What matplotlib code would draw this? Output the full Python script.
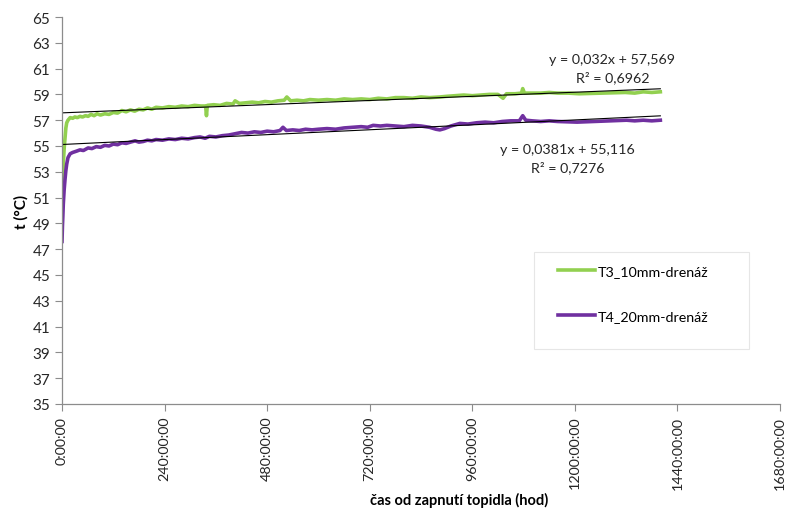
import numpy as np
import matplotlib
matplotlib.use('Agg')
import matplotlib.pyplot as plt
from matplotlib.patches import Rectangle

plt.rcParams['font.family'] = ['Lato', 'DejaVu Sans']

# T3_10mm-drenáž, time in hours, temperature in °C
t3_hours = [0, 1.5, 3, 5, 7, 9, 11, 14, 19, 25, 30, 36, 42, 48, 55, 61, 68, 75,
            82, 90, 100, 110, 120, 130, 140, 150, 160, 170, 180, 190, 200, 210,
            220, 235, 250, 265, 280, 295, 310, 325, 336, 338, 340, 355, 370,
            385, 400, 405, 415, 430, 445, 460, 475, 490, 505, 520, 526, 535,
            550, 565, 580, 600, 620, 640, 660, 680, 700, 720, 740, 760, 780,
            800, 820, 840, 860, 884, 900, 920, 940, 960, 980, 1000, 1020,
            1032, 1040, 1060, 1075, 1078, 1082, 1100, 1120, 1140, 1160, 1185,
            1210, 1318, 1340, 1360, 1380, 1400]
t3_temp = [51.1, 52.4, 53.6, 54.8, 55.6, 56.4, 56.8, 57.0, 57.2, 57.15, 57.25,
           57.2, 57.3, 57.25, 57.35, 57.3, 57.45, 57.35, 57.5, 57.4, 57.5,
           57.45, 57.6, 57.55, 57.75, 57.65, 57.8, 57.7, 57.85, 57.8, 57.95,
           57.85, 58.0, 57.95, 58.05, 58.0, 58.1, 58.05, 58.15, 58.1, 58.1,
           57.35, 58.15, 58.2, 58.15, 58.3, 58.25, 58.5, 58.3, 58.35, 58.4,
           58.35, 58.45, 58.4, 58.5, 58.55, 58.8, 58.5, 58.55, 58.5, 58.6,
           58.55, 58.6, 58.55, 58.65, 58.6, 58.65, 58.6, 58.7, 58.65, 58.75,
           58.75, 58.7, 58.8, 58.75, 58.8, 58.85, 58.9, 58.95, 58.9, 58.95,
           59.0, 59.0, 58.7, 59.05, 59.05, 59.1, 59.45, 59.1, 59.1, 59.1,
           59.15, 59.1, 59.1, 59.05, 59.15, 59.1, 59.2, 59.15, 59.2]

# T4_20mm-drenáž
t4_hours = [0, 1, 2, 3, 5, 7, 9, 11, 14, 19, 25, 34, 42, 50, 61, 70, 80, 90,
            100, 110, 120, 130, 140, 150, 160, 171, 180, 190, 200, 210, 220,
            235, 250, 265, 280, 295, 310, 323, 335, 345, 360, 375, 390, 405,
            420, 435, 450, 465, 480, 495, 510, 517, 525, 540, 555, 570, 585,
            600, 620, 640, 660, 680, 700, 715, 728, 745, 760, 780, 800, 820,
            840, 860, 875, 884, 895, 910, 931, 950, 970, 990, 1010, 1030, 1050,
            1070, 1078, 1085, 1100, 1120, 1140, 1160, 1205, 1321, 1340, 1360,
            1380, 1400]
t4_temp = [47.6, 48.8, 49.6, 50.5, 51.6, 52.4, 53.1, 53.6, 54.1, 54.4, 54.5,
           54.6, 54.7, 54.65, 54.85, 54.8, 54.95, 54.9, 55.05, 55.0, 55.15,
           55.1, 55.25, 55.2, 55.3, 55.4, 55.3, 55.35, 55.45, 55.4, 55.5,
           55.45, 55.55, 55.5, 55.6, 55.55, 55.65, 55.7, 55.6, 55.75, 55.7,
           55.8, 55.85, 55.95, 56.05, 56.0, 56.1, 56.05, 56.15, 56.1, 56.2,
           56.45, 56.2, 56.25, 56.2, 56.3, 56.25, 56.3, 56.35, 56.3, 56.4,
           56.45, 56.5, 56.45, 56.6, 56.55, 56.6, 56.55, 56.5, 56.6, 56.55,
           56.45, 56.3, 56.25, 56.35, 56.55, 56.75, 56.7, 56.8, 56.85, 56.8,
           56.9, 56.95, 56.95, 57.35, 57.0, 56.95, 56.9, 56.95, 56.9, 56.85,
           57.0, 56.95, 57.0, 56.95, 57.0]

# trendline coefficients as shown (x in days)
t3_fit = (0.032, 57.569)
t4_fit = (0.0381, 55.116)
t3_label = 'y = 0,032x + 57,569\nR² = 0,6962'
t4_label = 'y = 0,0381x + 55,116\nR² = 0,7276'

x_ticks = [0, 240, 480, 720, 960, 1200, 1440, 1680]
y_ticks = list(range(35, 66, 2))

GREEN = '#92D050'
PURPLE = '#7030A0'
AXIS_GREY = '#8C8C8C'

fig = plt.figure(figsize=(7.89, 5.10), dpi=100)
ax = fig.add_axes([0.0786, 0.2059, 0.91, 0.7588])

ax.plot(t3_hours, t3_temp, color=GREEN, lw=2.6, label='T3_10mm-drenáž',
        solid_joinstyle='round')
ax.plot(t4_hours, t4_temp, color=PURPLE, lw=2.6, label='T4_20mm-drenáž',
        solid_joinstyle='round')

# linear trendlines
tt = np.array([0, 1400])
for slope, icpt in (t3_fit, t4_fit):
    ax.plot(tt, icpt + slope * tt / 24, color='black', lw=0.8)

ax.set_xlim(0, 1680)
ax.set_ylim(35, 65)
ax.set_xticks(x_ticks)
ax.set_xticklabels(['%d:00:00' % h for h in x_ticks], rotation=90,
                   va='top', ha='center')
ax.set_yticks(y_ticks)
ax.tick_params(axis='both', colors=AXIS_GREY, labelcolor='#262626',
               length=5, width=0.8)
ax.tick_params(axis='y', labelsize=11)
ax.tick_params(axis='x', labelsize=10.3)
for s in ('top', 'right'):
    ax.spines[s].set_visible(False)
for s in ('left', 'bottom'):
    ax.spines[s].set_color(AXIS_GREY)
    ax.spines[s].set_linewidth(0.9)

ax.set_ylabel('t (°C)', fontsize=11, fontweight='bold', labelpad=3)
fig.text(0.582, 0.003, 'čas od zapnutí topidla (hod)', fontsize=10.5,
         fontweight='bold', ha='center', va='bottom')

# trendline equations
fig.text(0.776, 0.865, t3_label, fontsize=10.3, ha='center', va='center',
         linespacing=1.45, color='#262626')
fig.text(0.719, 0.688, t4_label, fontsize=10.3, ha='center', va='center',
         linespacing=1.45, color='#262626')

# legend with a fixed frame like the Excel box
fig.patches.append(Rectangle((534 / 789, 1 - 350 / 510), 215 / 789, 97 / 510,
                             transform=fig.transFigure, fill=False,
                             edgecolor='#E6E6E6', lw=0.8))
ax.legend(loc='upper left', bbox_to_anchor=(548 / 789, 1 - 256 / 510),
          bbox_transform=fig.transFigure, frameon=False, fontsize=10.3,
          labelspacing=2.3, handlelength=2.6, handletextpad=0.2,
          borderpad=0.2)

fig.savefig('out.png', dpi=100)
